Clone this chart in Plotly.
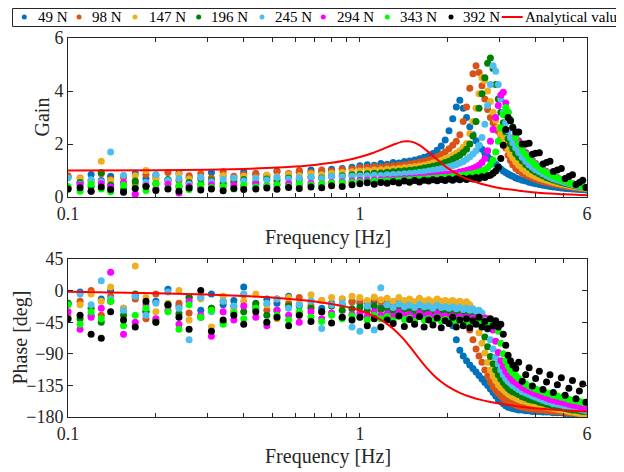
import math
import plotly.graph_objects as go

# ---------------- data ----------------
freq = [
    0.10, 0.11, 0.12, 0.13, 0.14, 0.155, 0.17, 0.185, 0.20, 0.22, 0.24, 0.26, 0.285, 0.31,
    0.34, 0.37, 0.40, 0.44, 0.48, 0.52, 0.57, 0.62, 0.68, 0.74, 0.80, 0.87, 0.94,
    1.00, 1.06, 1.12, 1.18, 1.24, 1.30, 1.36, 1.42, 1.48, 1.54, 1.60, 1.66, 1.72, 1.78, 1.84, 1.90, 1.96,
    2.02, 2.08, 2.14, 2.20, 2.26, 2.32, 2.38, 2.44, 2.50, 2.56, 2.62, 2.68, 2.74, 2.80, 2.86, 2.92,
    2.98, 3.04, 3.10, 3.16, 3.22, 3.28, 3.34,
    3.42, 3.50, 3.60, 3.70, 3.80, 3.90, 4.00, 4.12, 4.24, 4.36, 4.48, 4.60, 4.75, 4.90, 5.05, 5.20,
    5.35, 5.50, 5.65, 5.80, 5.95,
]

gain_49 = [
    0.75, 0.55, 0.85, 0.62, 0.78, 0.50, 0.88, 0.70, 0.82, 0.65, 0.90, 0.75, 0.68, 0.92, 0.80, 0.72, 0.95, 0.85, 0.78, 0.98, 0.88, 0.93, 1.02, 0.96, 1.05, 1.08, 1.12,
    1.18, 1.22, 1.20, 1.26, 1.24, 1.30, 1.28, 1.34, 1.36, 1.40, 1.44, 1.50, 1.56, 1.64, 1.76, 1.92, 2.15,
    2.50, 2.95, 3.40, 3.65, 3.35, 3.00, 2.65, 2.35, 2.12, 1.95, 1.80, 1.65, 1.52, 1.42, 1.32, 1.24, 1.15, 1.06, 0.98, 0.92, 0.87, 0.82, 0.78,
    0.72, 0.68, 0.63, 0.60, 0.56, 0.53, 0.50, 0.47, 0.44, 0.42, 0.40, 0.38, 0.36, 0.34, 0.32, 0.31, 0.30, 0.29, 0.28, 0.27, 0.26,
]
gain_98 = [
    0.80, 0.72, 0.60, 0.88, 0.66, 0.75, 0.52, 0.85, 0.70, 0.92, 0.62, 0.80, 0.88, 0.72, 0.95, 0.78, 0.85, 0.90, 0.82, 0.95, 0.88, 1.00, 0.92, 1.02, 0.98, 1.04, 1.06,
    1.10, 1.12, 1.14, 1.13, 1.17, 1.18, 1.20, 1.22, 1.25, 1.28, 1.32, 1.36, 1.40, 1.45, 1.52, 1.60, 1.70,
    1.82, 1.95, 2.10, 2.35, 2.85, 3.40, 4.10, 4.65, 4.95, 4.70, 4.20, 3.70, 3.30, 3.00, 2.80, 2.62, 2.48, 2.32, 2.12, 1.85, 1.58, 1.38, 1.22,
    1.08, 0.98, 0.90, 0.83, 0.77, 0.72, 0.67, 0.62, 0.58, 0.55, 0.52, 0.49, 0.46, 0.43, 0.41, 0.39, 0.37, 0.35, 0.34, 0.32, 0.31,
]
gain_147 = [
    0.38, 0.70, 0.55, 1.35, 0.62, 0.48, 0.80, 1.00, 0.72, 0.58, 0.85, 0.68, 0.75, 0.62, 0.80, 0.70, 0.78, 0.72, 0.82, 0.76, 0.85, 0.80, 0.88, 0.84, 0.90, 0.92, 0.95,
    0.98, 1.00, 1.02, 1.03, 1.05, 1.06, 1.08, 1.10, 1.12, 1.14, 1.17, 1.20, 1.24, 1.28, 1.33, 1.38, 1.44,
    1.50, 1.58, 1.66, 1.75, 1.88, 2.02, 2.40, 2.85, 3.35, 3.90, 4.50, 4.40, 4.00, 3.60, 3.20, 2.90, 2.62, 2.38, 2.18, 1.98, 1.80, 1.62, 1.48,
    1.32, 1.20, 1.07, 0.97, 0.89, 0.83, 0.77, 0.72, 0.67, 0.63, 0.59, 0.56, 0.52, 0.49, 0.46, 0.43, 0.41, 0.39, 0.37, 0.35, 0.33,
]
gain_196 = [
    0.30, 0.55, 0.40, 0.92, 0.45, 0.28, 0.60, 0.42, 0.50, 0.65, 0.38, 0.55, 0.48, 0.62, 0.52, 0.58, 0.66, 0.55, 0.68, 0.62, 0.72, 0.66, 0.75, 0.72, 0.78, 0.80, 0.84,
    0.86, 0.88, 0.90, 0.91, 0.93, 0.95, 0.97, 0.99, 1.01, 1.03, 1.06, 1.09, 1.12, 1.16, 1.20, 1.25, 1.30,
    1.35, 1.42, 1.50, 1.58, 1.68, 1.80, 2.00, 2.30, 2.85, 3.35, 3.90, 4.50, 5.05, 5.25, 4.85, 4.25, 3.70, 3.20, 2.80, 2.45, 2.20, 2.00, 1.82,
    1.64, 1.50, 1.36, 1.23, 1.12, 1.02, 0.94, 0.87, 0.80, 0.74, 0.69, 0.64, 0.59, 0.55, 0.51, 0.48, 0.45, 0.42, 0.40, 0.38, 0.36,
]
gain_245 = [
    0.72, 0.48, 0.65, 0.58, 1.70, 0.82, 0.10, 0.55, 0.85, 0.62, 0.70, 0.48, 0.75, 0.58, 0.66, 0.72, 0.60, 0.70, 0.64, 0.74, 0.68, 0.72, 0.75, 0.70, 0.78, 0.76, 0.78,
    0.79, 0.80, 0.82, 0.81, 0.84, 0.85, 0.86, 0.88, 0.89, 0.91, 0.93, 0.95, 0.98, 1.01, 1.04, 1.07, 1.10,
    1.14, 1.18, 1.23, 1.28, 1.34, 1.42, 1.52, 1.62, 1.75, 1.95, 2.25, 2.75, 3.45, 4.25, 4.95, 4.75, 4.25, 3.70, 3.20, 2.80, 2.50, 2.25, 2.05,
    1.85, 1.68, 1.50, 1.35, 1.22, 1.12, 1.03, 0.95, 0.88, 0.81, 0.75, 0.69, 0.64, 0.59, 0.55, 0.51, 0.47, 0.44, 0.41, 0.38, 0.35,
]
gain_294 = [
    0.32, 0.45, 0.22, 0.50, 0.38, 0.55, 0.10, 0.42, 0.30, 0.48, 0.15, 0.40, 0.35, 0.46, 0.38, 0.44, 0.40, 0.48, 0.42, 0.46, 0.50, 0.45, 0.52, 0.50, 0.55, 0.58, 0.60,
    0.62, 0.63, 0.64, 0.65, 0.66, 0.67, 0.68, 0.70, 0.71, 0.72, 0.74, 0.75, 0.77, 0.79, 0.81, 0.83, 0.85,
    0.87, 0.89, 0.91, 0.94, 0.97, 1.00, 1.04, 1.08, 1.13, 1.20, 1.30, 1.45, 1.75, 2.10, 2.55, 3.00, 3.45, 3.85, 3.95, 3.55, 3.20, 2.88, 2.62,
    2.35, 2.12, 1.88, 1.68, 1.52, 1.38, 1.26, 1.15, 1.05, 0.96, 0.88, 0.81, 0.74, 0.67, 0.61, 0.56, 0.51, 0.47, 0.43, 0.40, 0.37,
]
gain_343 = [
    0.40, 0.22, 0.48, 0.30, 0.20, 0.45, 0.35, 0.25, 0.50, 0.32, 0.42, 0.28, 0.45, 0.36, 0.40, 0.30, 0.44, 0.38, 0.42, 0.46, 0.40, 0.48, 0.45, 0.50, 0.52, 0.54, 0.56,
    0.57, 0.58, 0.59, 0.60, 0.61, 0.62, 0.63, 0.64, 0.65, 0.66, 0.67, 0.68, 0.70, 0.71, 0.72, 0.73, 0.74,
    0.75, 0.76, 0.78, 0.80, 0.82, 0.84, 0.86, 0.88, 0.91, 0.94, 0.98, 1.03, 1.10, 1.22, 1.40, 1.70, 2.10, 2.60, 3.10, 3.38, 3.20, 2.92, 2.65,
    2.25, 2.00, 1.78, 1.60, 1.45, 1.33, 1.22, 1.10, 1.00, 0.92, 0.85, 0.78, 0.72, 0.66, 0.61, 0.56, 0.51, 0.47, 0.43, 0.40, 0.36,
]
gain_392 = [
    0.30, 0.35, 0.22, 0.38, 0.28, 0.18, 0.32, 0.40, 0.25, 0.30, 0.22, 0.34, 0.26, 0.30, 0.24, 0.32, 0.28, 0.30, 0.34, 0.29, 0.36, 0.32, 0.38, 0.35, 0.42, 0.40, 0.46,
    0.50, 0.54, 0.48, 0.55, 0.52, 0.58, 0.53, 0.60, 0.56, 0.62, 0.57, 0.63, 0.60, 0.65, 0.61, 0.66, 0.62,
    0.68, 0.63, 0.69, 0.65, 0.71, 0.66, 0.72, 0.68, 0.74, 0.70, 0.76, 0.74, 0.80, 0.82, 0.90, 0.98, 1.12, 1.45, 1.95, 2.55, 3.00, 2.88, 2.62,
    2.45, 2.45, 2.00, 2.00, 2.03, 1.61, 1.65, 1.67, 1.25, 1.30, 1.35, 0.96, 1.02, 1.08, 0.70, 0.77, 0.84, 0.47, 0.55, 0.63, 0.36,
]

phase_49 = [
    -18, -2, -35, -12, 0, -25, -8, -30, -15, 2, -22, -10, -28, -5, -20, -14, 5, -24, -12, -18, -8, -22, -15, -25, -18, -20, -16,
    -18, -22, -15, -24, -20, -26, -18, -23, -21, -25, -19, -24, -22, -26, -21, -25, -24,
    -30, -50, -70, -85, -93, -100, -106, -111, -116, -121, -126, -131, -135, -140, -145, -150, -155, -158, -161, -164, -166, -167, -168,
    -169, -170, -170, -171, -171, -172, -172, -172, -173, -173, -173, -174, -174, -174, -175, -175, -175, -176, -176, -176, -177,
]
phase_98 = [
    -20, -15, 0, -35, -8, -28, -12, -40, -5, -22, -18, -32, -10, -25, -15, -30, -6, -20, -28, -12, -18, -10, -22, -14, -20, -12, -16,
    -14, -18, -12, -16, -15, -19, -13, -17, -15, -18, -12, -16, -14, -17, -13, -16, -15,
    -17, -15, -18, -16, -25, -35, -56, -70, -83, -93, -102, -113, -122, -130, -137, -142, -146, -150, -153, -156, -158, -160, -161,
    -163, -165, -166, -167, -168, -169, -169, -170, -170, -171, -171, -172, -172, -173, -173, -174, -174, -175, -175, -176, -176,
]
phase_147 = [
    -35, -20, -5, -15, 5, -25, 35, -10, -30, -18, 0, -42, -12, -52, -8, -28, -15, -5, -20, -40, -10, -18, -6, -14, -10, -12, -8,
    -10, -14, -9, -13, -11, -15, -10, -14, -12, -16, -11, -15, -13, -16, -12, -15, -14,
    -16, -14, -17, -15, -18, -16, -20, -30, -42, -60, -75, -89, -102, -113, -122, -128, -134, -138, -141, -144, -147, -149, -151,
    -153, -155, -157, -158, -160, -161, -162, -164, -165, -166, -167, -168, -169, -170, -171, -172, -173, -174, -175, -176, -177,
]
phase_196 = [
    -18, -40, -25, -45, -15, -35, -5, -30, -42, -20, -33, -10, -38, -25, -45, -22, -30, -18, -35, -28, -22, -32, -25, -30, -22, -28, -26,
    -24, -28, -22, -27, -25, -29, -23, -27, -26, -30, -24, -28, -26, -30, -25, -29, -28,
    -30, -28, -32, -29, -31, -30, -33, -31, -34, -38, -50, -66, -80, -94, -104, -113, -120, -126, -131, -135, -139, -142, -144,
    -146, -148, -151, -153, -155, -156, -157, -159, -160, -162, -163, -165, -166, -167, -168, -169, -170, -170, -171, -172, -172,
]
phase_245 = [
    -40, -5, -20, 14, -12, -28, -8, -35, -18, -2, -25, -70, -10, -30, -15, -22, -5, -28, -18, -12, -25, -20, -15, -54, -20, -18, -52,
    -58, -22, -56, 4, -20, -24, -19, -23, -21, -24, -20, -23, -22, -25, -21, -24, -23,
    -25, -23, -26, -24, -27, -25, -28, -26, -29, -28, -32, -40, -55, -70, -83, -95, -104, -113, -120, -125, -129, -132, -135,
    -138, -141, -144, -146, -148, -150, -152, -154, -156, -158, -159, -161, -162, -163, -165, -166, -167, -168, -169, -170, -171,
]
phase_294 = [
    -30, -55, -38, -25, 26, -62, -45, -20, -40, -28, -48, -15, -35, -65, -30, -42, -22, -38, -50, -28, -35, -45, -30, -40, -32, -38, -34,
    -32, -36, -30, -35, -33, -37, -31, -35, -34, -38, -32, -36, -34, -38, -33, -37, -36,
    -38, -36, -39, -37, -40, -38, -41, -39, -40, -38, -41, -39, -40, -42, -56, -72, -88, -100, -108, -115, -120, -124, -128,
    -131, -134, -138, -141, -143, -145, -147, -149, -151, -153, -155, -156, -158, -159, -160, -162, -163, -164, -165, -166, -167,
]
phase_343 = [
    -20, -48, -30, -40, -15, -50, -35, -25, -45, -30, -55, -20, -38, -28, -48, -32, -40, -25, -45, -35, -42, -30, -38, -44, -35, -40, -36,
    -38, -42, -35, -40, -37, -43, -36, -41, -39, -44, -37, -42, -40, -44, -38, -43, -41,
    -43, -40, -44, -41, -45, -42, -46, -43, -47, -44, -46, -43, -47, -44, -46, -45, -58, -75, -90, -100, -107, -113, -117,
    -121, -125, -129, -133, -136, -138, -140, -142, -144, -146, -147, -149, -150, -152, -153, -155, -156, -157, -158, -159, -160,
]
phase_392 = [
    -40, -35, -62, -68, -30, -42, -52, -15, -45, -20, -38, -55, 0, -58, -42, -35, -48, -30, -45, -38, -50, -35, -44, -30, -46, -38, -42,
    -38, -50, -40, -52, -42, -47, -36, -51, -41, -48, -37, -52, -42, -49, -39, -53, -43,
    -47, -38, -52, -42, -50, -40, -53, -43, -48, -38, -52, -44, -54, -40, -50, -43, -52, -48, -62, -78, -92, -100, -106,
    -111, -102, -129, -120, -110, -136, -125, -115, -141, -130, -120, -145, -134, -124, -149, -139, -128, -154, -143, -133, -159,
]

# analytical curve
freq_analytical = [0.1, 0.2, 0.3, 0.4, 0.5, 0.6, 0.7, 0.8, 0.9, 1.0, 1.1, 1.2, 1.3, 1.4, 1.45, 1.5,
                   1.6, 1.7, 1.8, 1.9, 2.0, 2.2, 2.4, 2.6, 2.8, 3.0, 3.5, 4.0, 4.5, 5.0, 5.5, 6.0]
gain_analytical = [1.00, 1.01, 1.03, 1.06, 1.10, 1.15, 1.21, 1.29, 1.39, 1.51, 1.65, 1.81, 1.97, 2.09, 2.10, 2.09,
                   1.96, 1.74, 1.50, 1.28, 1.09, 0.81, 0.63, 0.50, 0.41, 0.34, 0.24, 0.17, 0.13, 0.10, 0.085, 0.07]
phase_analytical = [-1.8, -3.7, -5.6, -7.7, -10.0, -12.6, -15.5, -19.0, -23.2, -28.4, -35.0, -43.4, -54.2, -67.4, -74.8, -82.4,
                    -97.4, -110.7, -121.5, -129.9, -136.4, -145.6, -151.5, -155.6, -158.6, -160.9, -164.9, -167.4, -169.2, -170.5, -171.5, -172.3]

labels = ["49 N", "98 N", "147 N", "196 N", "245 N", "294 N", "343 N", "392 N"]
colors = ["#0072BD", "#D95319", "#EDB120", "#008000", "#4DBEEE", "#FF00FF", "#00FF00", "#000000"]
gains = [gain_49, gain_98, gain_147, gain_196, gain_245, gain_294, gain_343, gain_392]
phases = [phase_49, phase_98, phase_147, phase_196, phase_245, phase_294, phase_343, phase_392]

gain_ticks = [0, 2, 4, 6]
phase_ticks = [-180, -135, -90, -45, 0, 45]
freq_ticks = [0.1, 0.2, 0.3, 0.4, 0.5, 0.6, 0.7, 0.8, 0.9, 1, 2, 3, 4, 5, 6]
freq_ticktext = ["0.1", "", "", "", "", "", "", "", "", "1", "", "", "", "", "6"]

# ---------------- figure ----------------
# The page body adds an 8 px offset, so the figure is 8 px smaller and all
# screen positions below are converted with that offset.
OFF = 8
W, H = 624 - OFF, 472 - OFF
LEFT, RIGHT, TOP, BOTTOM = 68, 587, 38, 417          # plot area in screen pixels
ML, MR, MT, MB = LEFT - OFF, W - (RIGHT - OFF), TOP - OFF, H - (BOTTOM - OFF)
PW, PH = W - ML - MR, H - MT - MB


def px_x(px):
    return (px - LEFT) / PW


def px_y(py):
    return (BOTTOM - py) / PH


SERIF = "Liberation Serif"
AX = "#262626"

fig = go.Figure()
for name, col, g, p in zip(labels, colors, gains, phases):
    fig.add_trace(go.Scatter(x=freq, y=g, mode="markers", name=name, showlegend=False,
                             marker=dict(color=col, size=7, line=dict(width=0)),
                             xaxis="x", yaxis="y"))
    fig.add_trace(go.Scatter(x=freq, y=p, mode="markers", name=name, showlegend=False,
                             marker=dict(color=col, size=7, line=dict(width=0)),
                             xaxis="x2", yaxis="y2"))

fig.add_trace(go.Scatter(x=freq_analytical, y=gain_analytical, mode="lines", name="Analytical value",
                         line=dict(color="#FF0000", width=2, shape="spline"), showlegend=False,
                         xaxis="x", yaxis="y"))
fig.add_trace(go.Scatter(x=freq_analytical, y=phase_analytical, mode="lines", name="Analytical value",
                         line=dict(color="#FF0000", width=2, shape="spline"), showlegend=False,
                         xaxis="x2", yaxis="y2"))

tickfont = dict(family=SERIF, size=18, color=AX)
xcommon = dict(type="log", range=[-1, math.log10(6)], tickvals=freq_ticks, ticktext=freq_ticktext,
               ticks="inside", ticklen=4, tickwidth=1, tickcolor=AX, showline=True, linecolor=AX,
               linewidth=1, mirror="ticks", showgrid=False, zeroline=False, tickfont=tickfont,
               domain=[0, 1], automargin=False)
ycommon = dict(ticks="inside", ticklen=5, tickwidth=1, tickcolor=AX, showline=True, linecolor=AX,
               linewidth=1, mirror="ticks", showgrid=False, zeroline=False, tickfont=tickfont,
               automargin=False)

fig.update_layout(
    width=W, height=H,
    margin=dict(l=ML, r=MR, t=MT, b=MB),
    paper_bgcolor="white", plot_bgcolor="white",
    showlegend=False,
    xaxis=dict(anchor="y", **xcommon),
    xaxis2=dict(anchor="y2", **xcommon),
    yaxis=dict(anchor="x", domain=[px_y(197), 1], range=[0, 6], tickvals=gain_ticks, **ycommon),
    yaxis2=dict(anchor="x2", domain=[0, px_y(259)], range=[-180, 45], tickvals=phase_ticks, **ycommon),
)

titlefont = dict(family=SERIF, size=20, color=AX)
annotations = [
    dict(text="Frequency [Hz]", x=0.5, y=px_y(237), xref="paper", yref="paper",
         xanchor="center", yanchor="middle", showarrow=False, font=titlefont),
    dict(text="Frequency [Hz]", x=0.5, y=px_y(456), xref="paper", yref="paper",
         xanchor="center", yanchor="middle", showarrow=False, font=titlefont),
    dict(text="Gain", x=px_x(41), y=px_y(117.5), xref="paper", yref="paper", textangle=-90,
         xanchor="center", yanchor="middle", showarrow=False, font=titlefont),
    dict(text="Phase [deg]", x=px_x(19.5), y=px_y(338), xref="paper", yref="paper", textangle=-90,
         xanchor="center", yanchor="middle", showarrow=False, font=titlefont),
]

# manual legend (box, dots, line, texts) - positions in screen pixels
legend_y = 17
legend_font = dict(family=SERIF, size=15, color="#000000")
shapes = [dict(type="rect", xref="paper", yref="paper", x0=px_x(12.5), x1=px_x(660),
               y0=px_y(26.5), y1=px_y(OFF + 0.5), line=dict(color=AX, width=1), fillcolor="white",
               layer="above")]
dot_px = [24.3, 79, 135, 198.7, 262, 323.3, 387.3, 451]
text_px = [35.5, 89.5, 146.5, 209, 273, 335, 398.3, 461.3]
for cx, tx, name, col in zip(dot_px, text_px, labels, colors):
    r = 2.5
    shapes.append(dict(type="circle", xref="paper", yref="paper", x0=px_x(cx - r), x1=px_x(cx + r),
                       y0=px_y(legend_y + r), y1=px_y(legend_y - r), fillcolor=col,
                       line=dict(width=0), layer="above"))
    annotations.append(dict(text=name, x=px_x(tx), y=px_y(legend_y), xref="paper", yref="paper",
                            xanchor="left", yanchor="middle", showarrow=False, font=legend_font))
shapes.append(dict(type="line", xref="paper", yref="paper", x0=px_x(501.7), x1=px_x(522.7),
                   y0=px_y(legend_y), y1=px_y(legend_y), line=dict(color="#FF0000", width=2), layer="above"))
annotations.append(dict(text="Analytical value", x=px_x(522.5), y=px_y(legend_y), xref="paper", yref="paper",
                        xanchor="left", yanchor="middle", showarrow=False, font=legend_font))

fig.update_layout(annotations=annotations, shapes=shapes)
fig.write_html("out.html")
